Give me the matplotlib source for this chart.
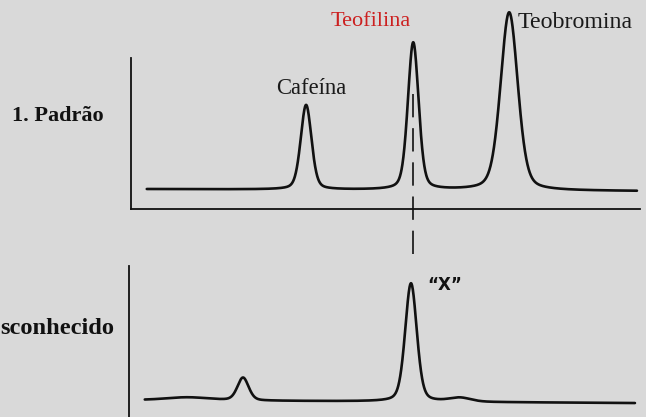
import numpy as np
import matplotlib.pyplot as plt

# standard mix: retention time, peak height above baseline, peak width (FWHM)
std_names = ['Cafeína', 'Teofilina', 'Teobromina']
std_rt = [3.44, 5.545, 7.43]
std_height = [42.5, 74.0, 89.5]
std_fwhm = [0.25, 0.25, 0.40]
std_baseline = [10.0, 9.0]

# unknown sample
unk_rt = [1.15, 2.24, 5.54, 6.5]
unk_height = [1.5, 11.5, 59.5, 2.0]
unk_fwhm = [1.0, 0.26, 0.27, 0.5]
unk_baseline = [8.5, 7.0]

t_start, t_end = 0.31, 9.94
eta = 0.3  # lorentzian share of the peak shape

bg = '#d9d9d9'
ink = '#111111'
W, H = 646, 417


def trace(rt, height, fwhm, base):
    t = np.linspace(t_start, t_end, 3000)
    y = np.linspace(base[0], base[1], t.size)
    for c, a, f in zip(rt, height, fwhm):
        u = (t - c) / f
        g = np.exp(-4 * np.log(2) * u ** 2)
        l = 1 / (1 + 4 * u ** 2)
        y += a * ((1 - eta) * g + eta * l)
    return t, y


fig = plt.figure(figsize=(W / 100, H / 100), dpi=100, facecolor=bg)

ax1 = fig.add_axes([131 / W, (H - 209) / H, 509 / W, 199 / H])
ax2 = fig.add_axes([129 / W, 0, 509 / W, 157 / H])

for ax in (ax1, ax2):
    ax.set_facecolor(bg)
    ax.set_xlim(0, 10)
    ax.set_xticks([])
    ax.set_yticks([])
    ax.spines['top'].set_visible(False)
    ax.spines['right'].set_visible(False)
    for s in ('left', 'bottom'):
        ax.spines[s].set_linewidth(1.3)
        ax.spines[s].set_color(ink)

ax1.set_ylim(0, 100)
ax1.spines['left'].set_bounds(0, 75.9)
ax2.set_ylim(0, 78.9)
ax2.spines['left'].set_bounds(0, 75.9)
ax2.spines['bottom'].set_visible(False)

t, y = trace(std_rt, std_height, std_fwhm, std_baseline)
ax1.plot(t, y, color=ink, lw=1.9, solid_capstyle='round')

t, y = trace(unk_rt, unk_height, unk_fwhm, unk_baseline)
ax2.plot(t, y, color=ink, lw=1.9, solid_capstyle='round')

# retention time of the reference peak carried down to the unknown
ax1.plot([std_rt[1], std_rt[1]], [57.8, -105], color=ink, lw=1.2,
         linestyle=(0, (14, 6.5)), clip_on=False)

serif = 'Liberation Serif'
fig.text(311 / W, 1 - 88 / H, std_names[0], family=serif, fontsize=16.3,
         color='#1a1a1a', ha='center', va='center')
fig.text(371 / W, 1 - 22 / H, std_names[1], family=serif, fontsize=16,
         color='#cc2020', ha='center', va='center')
fig.text(518 / W, 1 - 22 / H, std_names[2], family=serif, fontsize=17.2,
         color='#1a1a1a', ha='left', va='center')

fig.text(12 / W, 1 - 116 / H, '1. Padrão', family=serif, fontsize=16,
         fontweight='bold', color=ink, ha='left', va='center')
fig.text(114 / W, 1 - 328 / H, 'sconhecido', family=serif, fontsize=17.6,
         fontweight='bold', color=ink, ha='right', va='center')
fig.text(445 / W, 1 - 285 / H, '\u201cX\u201d', family='DejaVu Sans', fontsize=12,
         fontweight='bold', color=ink, ha='center', va='center')

fig.savefig('out.png', dpi=100, facecolor=bg)
